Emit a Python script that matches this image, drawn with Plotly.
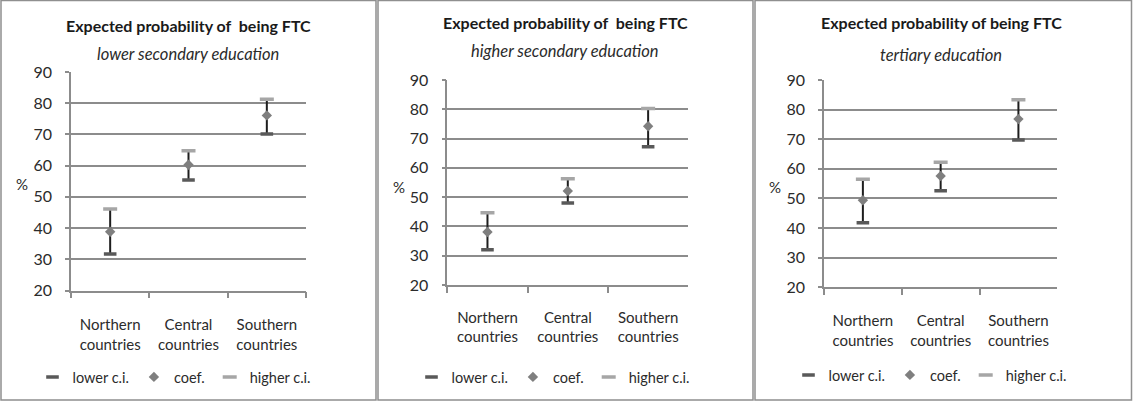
import plotly.graph_objects as go

W, H = 1133, 401

categories = ["Northern<br>countries", "Central<br>countries", "Southern<br>countries"]
panel_subtitles = ["lower secondary education", "higher secondary education", "tertiary education"]
title_text = ["Expected probability of  being FTC", "Expected probability of  being FTC", "Expected probability of being FTC"]

lower_sec_low = [31.7, 55.4, 70.1]
lower_sec_coef = [38.8, 60.3, 76.1]
lower_sec_high = [46.1, 64.8, 81.3]

higher_sec_low = [32.0, 48.0, 67.2]
higher_sec_coef = [38.1, 52.1, 74.2]
higher_sec_high = [44.7, 56.3, 80.3]

tertiary_low = [41.8, 52.6, 69.7]
tertiary_coef = [49.4, 57.6, 76.8]
tertiary_high = [56.5, 62.2, 83.3]

y_ticks = [20, 30, 40, 50, 60, 70, 80, 90]

panels = [
    (lower_sec_low, lower_sec_coef, lower_sec_high),
    (higher_sec_low, higher_sec_coef, higher_sec_high),
    (tertiary_low, tertiary_coef, tertiary_high),
]

# pixel layout: (x0, x1, y_top(90), y_bottom(20))
geom = [
    (71, 306, 72, 290.5),
    (447.3, 688.3, 80, 285),
    (824, 1057.3, 80, 287.3),
]
title_pos = [(188, 25, 54), (565, 22, 51), (941, 23, 55)]
pct_pos = [(22, 184), (399, 187), (775, 187)]
legend_pos = [(174, 377), (553, 377), (930, 375)]
ticklabel_standoff = [20, 18, 19]

FONT = "Lato, Carlito, Calibri, sans-serif"
GRID = "#8c8c8c"
TXT = "#2b2b2b"

fig = go.Figure()
layout = dict(
    template="none",
    width=W, height=H, autosize=False,
    margin=dict(l=0, r=0, t=0, b=0, pad=0, autoexpand=False),
    paper_bgcolor="white", plot_bgcolor="white",
    font=dict(family=FONT, color=TXT, size=14),
    annotations=[], shapes=[],
)

for i, (lo, co, hi) in enumerate(panels):
    n = "" if i == 0 else str(i + 1)
    xa, ya = "x" + n, "y" + n
    leg = "legend" + n
    err_up = [h - c for h, c in zip(hi, co)]
    err_dn = [c - l for c, l in zip(co, lo)]
    fig.add_trace(go.Scatter(
        x=categories, y=co, mode="markers", name="coef.",
        marker=dict(symbol="diamond", size=8, color="#7f7f7f"),
        error_y=dict(type="data", symmetric=False, array=err_up, arrayminus=err_dn,
                     width=0, thickness=2, color="#1e1e1e"),
        xaxis=xa, yaxis=ya, legend=leg, legendrank=2, hoverinfo="skip"))
    fig.add_trace(go.Scatter(
        x=categories, y=lo, mode="markers", name="lower c.i.",
        marker=dict(symbol="line-ew", size=9, line=dict(width=3.5, color="#595959")),
        xaxis=xa, yaxis=ya, legend=leg, legendrank=1, hoverinfo="skip"))
    fig.add_trace(go.Scatter(
        x=categories, y=hi, mode="markers", name="higher c.i.",
        marker=dict(symbol="line-ew", size=10, line=dict(width=3.5, color="#a6a6a6")),
        xaxis=xa, yaxis=ya, legend=leg, legendrank=3, hoverinfo="skip"))

    x0, x1, yt, yb = geom[i]
    layout["xaxis" + n] = dict(
        domain=[x0 / W, x1 / W], anchor=ya, type="category",
        categoryorder="array", categoryarray=categories,
        range=[-0.5, 2.5], showgrid=False, zeroline=False, automargin=False,
        showline=True, linecolor=GRID, linewidth=1.5,
        ticks="outside", tickson="boundaries", ticklen=6, tickcolor=GRID, tickwidth=1.5,
        tickfont=dict(family=FONT, size=15, color=TXT),
        ticklabelstandoff=ticklabel_standoff[i],
        fixedrange=True,
    )
    layout["yaxis" + n] = dict(
        domain=[1 - yb / H, 1 - yt / H], anchor=xa, automargin=False,
        range=[20, 90], tickvals=y_ticks, showgrid=True, gridcolor=GRID, gridwidth=1.5,
        zeroline=False, showline=True, linecolor=GRID, linewidth=1.5,
        ticks="outside", ticklen=4, tickcolor=GRID, tickwidth=1.5,
        tickfont=dict(family=FONT, size=16, color=TXT),
        ticklabelstandoff=10, fixedrange=True,
    )
    lx, ly = legend_pos[i]
    layout[leg] = dict(
        orientation="h", x=lx / W, y=1 - ly / H, xanchor="center", yanchor="middle",
        font=dict(family=FONT, size=14.5, color=TXT), bgcolor="rgba(0,0,0,0)",
        itemwidth=30, tracegroupgap=0,
    )
    tx, ty, sy = title_pos[i]
    layout["annotations"].append(dict(
        text="<b>" + title_text[i] + "</b>", x=tx / W, y=1 - ty / H, xref="paper", yref="paper",
        showarrow=False, xanchor="center", yanchor="middle",
        font=dict(family=FONT, size=16, color="#1a1a1a")))
    layout["annotations"].append(dict(
        text="<i>" + panel_subtitles[i] + "</i>", x=tx / W, y=1 - sy / H, xref="paper", yref="paper",
        showarrow=False, xanchor="center", yanchor="middle",
        font=dict(family=FONT, size=16.5, color=TXT)))
    px, py = pct_pos[i]
    layout["annotations"].append(dict(
        text="%", x=px / W, y=1 - py / H, xref="paper", yref="paper",
        showarrow=False, xanchor="center", yanchor="middle",
        font=dict(family=FONT, size=15, color=TXT)))

# panel frames
frame = dict(type="rect", xref="paper", yref="paper", line=dict(color="#8f8f8f", width=1.5),
             fillcolor="rgba(0,0,0,0)")
layout["shapes"] += [
    dict(frame, x0=1 / W, x1=376 / W, y0=1 - 400 / H, y1=1 - 0.5 / H),
    dict(frame, x0=378 / W, x1=753 / W, y0=1 - 400 / H, y1=1 - 0.5 / H),
    dict(frame, x0=755 / W, x1=1131.5 / W, y0=1 - 400 / H, y1=1 - 0.5 / H),
]

fig.update_layout(**layout)
fig.write_html(
    "out.html",
    config={"displayModeBar": False, "responsive": False},
    post_script="document.body.style.margin='0';document.body.style.overflow='hidden';",
)
